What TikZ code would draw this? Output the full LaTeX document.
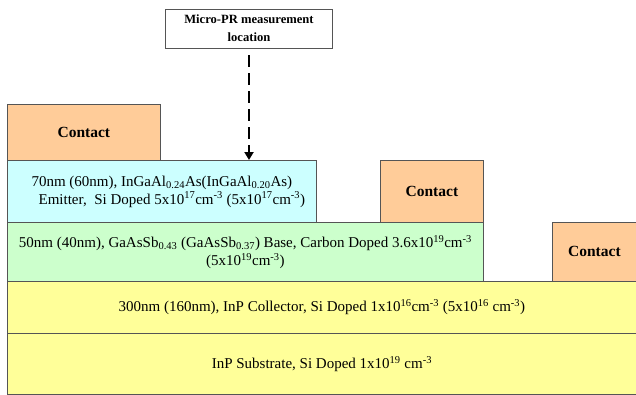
\documentclass[tikz,border=0pt]{standalone}
\usepackage{fontspec}
\setmainfont{Liberation Serif}
\usepackage{xcolor}
\usetikzlibrary{arrows.meta,positioning,calc}

\definecolor{contactfill}{HTML}{FFCC99}
\definecolor{emitterfill}{HTML}{CCFFFF}
\definecolor{basefill}{HTML}{CCFFCC}
\definecolor{collfill}{HTML}{FFFF99}
\definecolor{edgegray}{HTML}{555555}

\tikzset{
  layer/.style={draw=edgegray, line width=0.8pt, rectangle, inner sep=0pt,
    anchor=north west, align=center, font=\fontsize{15}{18}\selectfont},
  contactbox/.style={layer, fill=contactfill, font=\fontsize{15.5}{18}\selectfont\bfseries},
  labelbox/.style={draw=edgegray, line width=0.8pt, fill=white, rectangle, align=center,
    minimum width=167pt, minimum height=39pt, inner sep=0pt,
    font=\fontsize{12.6}{18}\selectfont\bfseries},
  probearrow/.style={line width=2.6pt, dash pattern=on 12pt off 6pt,
    -{Triangle[length=8pt,width=9pt]}}
}

\begin{document}
\begin{tikzpicture}[x=1pt, y=-1pt]
    \useasboundingbox (0,0) rectangle (636,394);

    % substrate and collector
    \node[layer, fill=collfill, minimum width=629pt, minimum height=61pt] (substrate) at (7,333)
        {InP Substrate, Si Doped 1x10\textsuperscript{19} cm\textsuperscript{-3}};
    \node[layer, fill=collfill, minimum width=629pt, minimum height=52pt] (collector) at (7,281)
        {300nm (160nm), InP Collector, Si Doped 1x10\textsuperscript{16}cm\textsuperscript{-3} (5x10\textsuperscript{16} cm\textsuperscript{-3})};

    % base
    \node[layer, fill=basefill, minimum width=476pt, minimum height=59pt] (base) at (7,222)
        {50nm (40nm), GaAsSb\textsubscript{0.43} (GaAsSb\textsubscript{0.37}) Base, Carbon Doped 3.6x10\textsuperscript{19}cm\textsuperscript{-3}\\
         (5x10\textsuperscript{19}cm\textsuperscript{-3})};

    % emitter
    \node[layer, fill=emitterfill, minimum width=309pt, minimum height=62pt] (emitter) at (7,160)
        {70nm (60nm), InGaAl\textsubscript{0.24}As(InGaAl\textsubscript{0.20}As)\\
         \hspace*{20pt}Emitter,\ \ Si Doped 5x10\textsuperscript{17}cm\textsuperscript{-3} (5x10\textsuperscript{17}cm\textsuperscript{-3})};

    % contacts
    \node[contactbox, minimum width=153pt, minimum height=56pt] (econtact) at (7,104) {Contact};
    \node[contactbox, minimum width=103pt, minimum height=62pt] (bcontact) at (380,160) {Contact};
    \node[contactbox, minimum width=84pt, minimum height=59pt] (ccontact) at (552,222) {Contact};

    % measurement spot
    \node[labelbox] (mpr) at (249,28.5) {Micro-PR measurement\\location};
    \coordinate (spot) at (emitter.north -| mpr.south);
    \draw[probearrow] ($(mpr.south)+(0,7)$) -- (spot);
\end{tikzpicture}
\end{document}
